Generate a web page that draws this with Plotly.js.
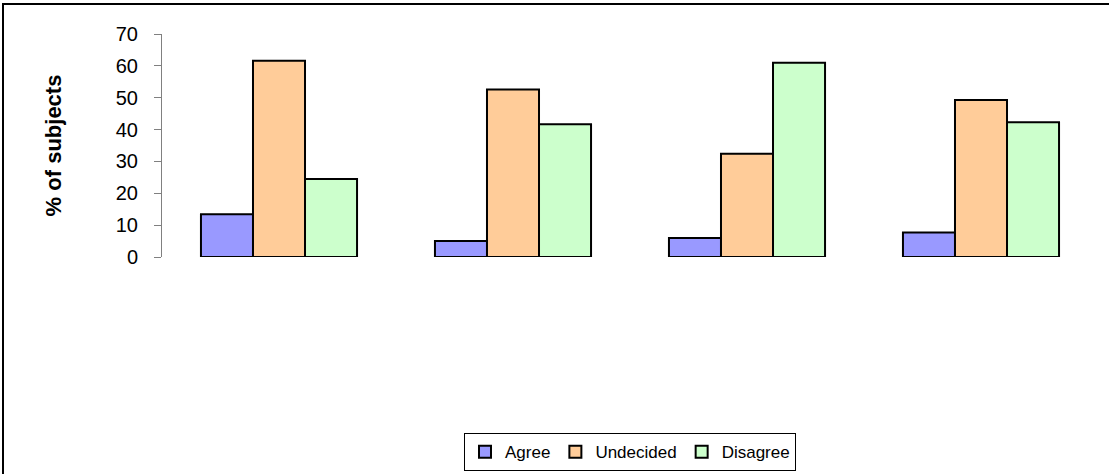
<!DOCTYPE html>
<html>
<head>
<meta charset="utf-8">
<script src="https://cdn.plot.ly/plotly-3.0.1.min.js"></script>
<style>
  html, body { margin: 0; padding: 0; background: #fff; overflow: hidden; }
  #wrap { position: relative; width: 1109px; height: 474px; overflow: hidden; }
  #chart { position: absolute; left: 0; top: 0; width: 1109px; height: 474px; }
  #frame { position: absolute; left: 2px; top: 3px; width: 1120px; height: 490px;
           border: 2px solid #000; pointer-events: none; box-sizing: border-box; }
</style>
</head>
<body>
<div id="wrap">
  <div id="chart"></div>
  <div id="frame"></div>
</div>
<script>
const categories = ['Statement 1', 'Statement 2', 'Statement 3', 'Statement 4'];
const agree = [13.4, 5.0, 6.0, 7.7];
const undecided = [61.6, 52.6, 32.4, 49.3];
const disagree = [24.5, 41.7, 61.0, 42.3];
const seriesNames = ['Agree', 'Undecided', 'Disagree'];
const seriesColors = ['#9999FF', '#FFCC99', '#CCFFCC'];
const yTicks = [0, 10, 20, 30, 40, 50, 60, 70];

const values = [agree, undecided, disagree];
const traces = values.map((v, i) => ({
  type: 'bar',
  name: seriesNames[i],
  x: categories,
  y: v,
  marker: { color: seriesColors[i], line: { color: '#000', width: 2 } },
  hoverinfo: 'y+name'
}));

const layout = {
  width: 1109,
  height: 474,
  paper_bgcolor: '#fff',
  plot_bgcolor: '#fff',
  font: { family: 'Liberation Sans, Arial, sans-serif', color: '#000' },
  margin: { l: 162, r: 11, t: 34, b: 217, pad: 0, autoexpand: false },
  barmode: 'group',
  bargap: 0.333,
  bargroupgap: 0,
  showlegend: true,
  xaxis: {
    type: 'category',
    showticklabels: false,
    ticks: '',
    showline: false,
    showgrid: false,
    zeroline: false,
    automargin: false,
    fixedrange: true
  },
  yaxis: {
    range: [0, 70],
    tickvals: yTicks,
    ticktext: yTicks.map(String),
    ticks: 'outside',
    ticklen: 7,
    tickwidth: 1,
    tickcolor: '#808080',
    ticklabelstandoff: 12,
    showline: true,
    linecolor: '#808080',
    linewidth: 1,
    showgrid: false,
    zeroline: false,
    automargin: false,
    tickfont: { size: 20, family: 'Liberation Sans, Arial, sans-serif' },
    title: {
      text: '<b>% of subjects</b>',
      font: { size: 22, family: 'Liberation Sans, Arial, sans-serif' },
      standoff: 48
    },
    fixedrange: true
  },
  legend: {
    orientation: 'h',
    x: 0.5,
    xanchor: 'center',
    xref: 'paper',
    yref: 'container',
    y: 0.086,
    yanchor: 'top',
    bordercolor: '#000',
    borderwidth: 1,
    bgcolor: '#fff',
    font: { size: 17, family: 'Liberation Sans, Arial, sans-serif' },
    itemwidth: 30,
    traceorder: 'normal'
  }
};

Plotly.newPlot('chart', traces, layout, { displayModeBar: false, staticPlot: true });
</script>
</body>
</html>
